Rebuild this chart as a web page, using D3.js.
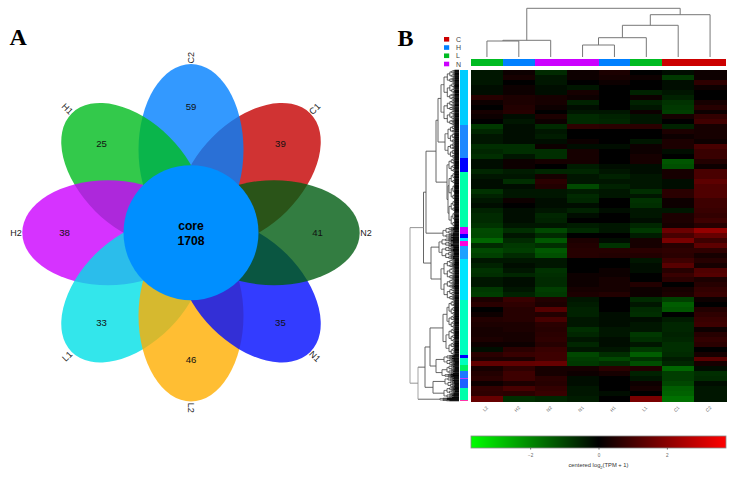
<!DOCTYPE html>
<html><head><meta charset="utf-8">
<script src="https://cdn.jsdelivr.net/npm/d3@7"></script>
<style>html,body{margin:0;padding:0;background:#fff}svg{display:block}text{font-family:"Liberation Sans",Arial,sans-serif}</style>
</head><body><svg id="c" width="729" height="479"></svg>
<script>
// ---- Panel A: flower Venn
const vennNames  = ["C1","C2","H1","H2","L1","L2","N1","N2"];
const vennValues = [39,59,25,38,33,46,35,41];
const vennAngles = [45,0,-45,-90,-135,180,135,90];
const vennColors = ["#c40000","#0080ff","#00bb1e","#cc00ff","#00e0e6","#ffae00","#000bff","#005c11"];
const coreName = "core", coreValue = 1708;

// ---- Panel B: heat map, one array per row, columns in sampleOrder
const sampleOrder = ["L2","H2","N2","N1","H1","L1","C1","C2"];
const sampleGroup = ["L","H","N","N","H","L","C","C"];
const groupNames  = ["C","H","L","N"];
const groupColors = ["#cc0000","#0080ff","#00bb22","#cc00ff"];
const heatRows = [
[-0.4,0.3,-0.9,0.3,0.6,0.1,-0.2,0.3],[-0.5,0.5,-0.5,0.2,0.5,0.2,-1.2,0.2],[-0.5,0.1,-0.5,0,0.2,0,-0.3,1.0],[-0.2,0.2,-0.3,-0.4,0.1,-0.1,-0.3,0.3],
[-0.2,0.2,-0.3,0.4,0.1,-0.7,-0.5,0.1],[0.8,0.6,0.5,0.3,0.1,0.3,-0.7,0],[0.3,0.6,0.5,-0.7,0,-0.7,-1.1,0.5],[0.1,0.7,0.2,-0.2,-0.1,-0.4,-1.2,0.8],
[0.5,0.8,0.1,-0.4,-0.4,0.3,-1.3,0.3],[0.3,-0.2,0.6,-0.9,-0.7,-0.5,0.4,1.1],[0.1,-0.5,0.2,-0.9,-0.8,-0.5,0,1.4],[-1.2,-0.3,-0.9,1.0,0.9,0.9,-0.7,0.5],
[-0.8,-0.3,-0.4,0.1,0.1,0,0.6,0.5],[-0.4,-0.2,-0.6,0.1,0.1,0.1,0.3,0.5],[-0.5,-0.2,-0.2,0.2,0.1,-0.4,0.6,0.2],[-1.0,-1.0,0.2,-0.2,-0.3,0.2,0.6,1.5],
[-0.8,-1.0,-1.0,0.5,-0.1,0.3,-0.3,1.2],[-1,-0.5,-1,0.4,-0.1,0.4,-0.1,1.2],[-0.2,0.2,0.5,0.5,0,0.4,-1.8,0.7],[-0.3,0.3,0.1,-0.6,-0.2,-0.2,-1.7,0.3],
[-0.8,-0.6,-0.8,-0.8,-0.5,-0.2,0.4,1.6],[-0.5,-0.5,0.4,-0.5,-0.7,-0.4,0.4,1.6],[-0.3,-1,0.9,-0.4,-0.4,-0.5,-0.2,2],[-0.2,-0.2,0.7,-1.6,-0.7,-0.4,-0.3,1.7],
[-1.1,-0.4,-0.4,-0.6,-0.5,-1,0.9,1.7],[-0.7,-0.4,-0.4,-0.9,-0.5,-0.4,0.9,1.7],[-0.4,0.2,-0.2,-0.8,-0.1,-1.1,0.2,1.3],[-0.3,0.1,-0.2,-0.3,0,-1.0,0.2,1.3],
[-0.7,-0.3,-0.5,-0.7,-0.2,-0.4,-0.4,1.2],[-0.9,-0.3,-0.8,-0.2,0.1,-0.4,0.6,1.1],[-0.9,-0.3,-0.7,-0.1,0.1,-0.2,0.6,1.3],[-1.1,-0.5,-0.5,-0.6,-0.4,-0.8,0.5,0.8],
[-1.6,-1,-1.6,-0.9,-0.5,-1.2,2.3,3.2],[-1.5,-0.4,-0.9,0,-0.1,-0.6,1.5,2.2],[-2.2,-0.9,-1.9,0.6,-0.2,0.5,2.6,1.3],[-0.9,-1.2,-1.0,0.7,-1.1,0.5,0.8,2],
[-1.6,-1.3,-1.9,0.8,0.8,0.9,1.0,1.0],[-1.4,-0.9,-1.7,0.8,0.7,0.7,0.9,0.5],[-0.4,-0.4,-0.5,0.1,-0.1,-0.5,1.3,0.8],[-0.7,-0.3,-0.5,0,0.1,-0.3,1.9,0.4],
[-1.1,-0.4,-1.1,0.1,0.2,-0.3,0.8,1.7],[-1.0,-0.8,-1.0,0.2,0.2,0,1.2,1.8],[-0.5,-0.3,-0.9,0.3,0.4,0.1,0.9,0.6],[-0.4,-0.3,-0.9,0.3,0.4,0.7,0.1,0.8],
[-1.2,-0.5,-1.3,0.5,0.5,0.3,0.5,1.1],[-1.3,-0.7,-1.2,0.6,0.7,0.3,0.6,1.2],[0.6,1.2,0.7,-0.5,0,-0.9,-1.4,0.2],[0.9,1,0.6,-0.6,-0.1,-0.4,-2,0.1],
[0.1,0.8,1.8,-0.7,-0.1,-0.9,-1.8,0.7],[0.2,0.8,0.7,-0.7,-0.3,-1,0.1,1],[0.7,0.8,1.5,-0.4,-0.3,-0.3,-0.6,1.2],[0.6,0.6,0.9,-0.5,-0.3,-0.4,-0.8,1.3],
[0.5,0.6,0.8,-1,-0.4,-0.4,-0.8,0.3],[0.5,0.4,0.9,-0.8,-0.4,-1.2,-0.7,0.8],[0.6,0.4,1,-0.5,-0.2,-1,-0.8,1.1],[0.2,0.2,0.8,-0.8,-0.2,-0.5,-1,0.9],
[-0.3,0.9,1.2,-0.4,-0.5,-1.2,-1,0.1],[0.9,1.2,1.3,-1.5,-1,-2,-0.9,0.5],[0.6,0.6,1.3,-1.3,-1.5,-1.1,-0.6,1.9],[2.1,2.1,2.2,-1.2,-1.0,-1.7,-0.8,0.4],
[0.5,1,0.4,0.5,0.9,0.7,-2.2,-0.2],[0.7,1.3,0.5,0.2,0.4,-0.7,-1.3,-1.0],[0.9,1.3,0.9,-0.2,0.1,-0.5,-1.3,-0.9],[0.3,0.6,0.8,-0.3,-0.1,0.3,-1.5,-0.2],
[1.1,1.5,1.1,-0.4,-0.1,0.4,-2,-0.5],[1,0.9,1.2,-0.4,-0.2,-0.1,-2.1,-0.4],[2.2,-1,-0.8,-0.6,-0.1,2.6,-2.4,-0.5]
];
const cellGain = 0.68;
// row annotation runs: [row span in px, colour]
const rowGroupSpans = [55,33,14,55,7,4,3,5,13,41,55,3,7,6,7,1,9,12,1];
const rowGroupColors = ["#00ccff","#1e88ff","#0000ff","#00ffaa","#cc00ff","#0000ff","#00e5ff","#ff00dc","#1ea0ff","#00e5ff","#00ffbe","#0000ff","#00ffbe","#00f064","#1e78ff","#cc33ff","#1e60ff","#00ffaa","#ff33aa"];
// column dendrogram: [merge height, left, right], leaves are column indexes
const colTree = [8.3,[40.3,[41,0,1],2],[14.7,[25.3,[37.7,[45,3,4],5],6],7]];
// row dendrogram: [merge position, children...], plain numbers are leaf bundles (rows in px)
const rowTree = [410,
 [423.5,
  [426,
   [436,[438,[441,30,25],[445,18,15]],[447,14,[448,28,27]]],
   [443,7,4]],
  [431,[439,8,13],[441,20,21]]],
 [418,
  [425,
   [430,[443,[447,15,13],[446,14,13]],[436,[444,4,6],[442,[447,5,4],3]]],
   [433,[445,4,6],[444,7,4]]],
  [440,1,2]]];
const scaleTicks = [-2,0,2];

// ---- drawing
const svg = d3.select("#c");
const cx=191, cy=232.7, petalDist=83, petalA=85.7, petalB=52.5, coreR=67.5;
const defs = svg.append("defs");
const blur=defs.append("filter").attr("id","soft").attr("x",0).attr("y",0).attr("width",1).attr("height",1);
blur.append("feGaussianBlur").attr("stdDeviation","0.5 0.6");

svg.append("text").attr("x",9.5).attr("y",45).text("A").style("font-family","'Liberation Serif',serif").style("font-weight","bold").style("font-size","24px");
svg.append("text").attr("x",397.5).attr("y",45.5).text("B").style("font-family","'Liberation Serif',serif").style("font-weight","bold").style("font-size","24px");

const venn = svg.append("g");
const rad = d3.scaleLinear().domain([0,360]).range([0,2*Math.PI]);
venn.selectAll("ellipse.p").data(vennNames).join("ellipse").attr("class","p")
  .attr("cx",cx).attr("cy",cy-petalDist).attr("rx",petalB).attr("ry",petalA)
  .attr("fill",(d,i)=>vennColors[i]).attr("fill-opacity",0.8)
  .attr("transform",(d,i)=>`rotate(${vennAngles[i]} ${cx} ${cy})`);
venn.append("circle").attr("cx",cx).attr("cy",cy).attr("r",coreR).attr("fill","#008fff");
const numR=126.5;
venn.selectAll("text.v").data(vennValues).join("text").attr("class","v")
  .attr("x",(d,i)=>cx+numR*Math.sin(rad(vennAngles[i])))
  .attr("y",(d,i)=>cy-numR*Math.cos(rad(vennAngles[i]))+3.4)
  .attr("text-anchor","middle").style("font-size","9.6px").attr("fill","#111").text(d=>d);
venn.selectAll("text.n").data(vennNames).join("text").attr("class","n")
  .attr("text-anchor","middle").attr("dominant-baseline","central").style("font-size","9px").attr("fill","#222")
  .attr("transform",(d,i)=>{
    const a=vennAngles[i], r=175;
    const x=cx+r*Math.sin(rad(a)), y=cy-r*Math.cos(rad(a));
    const t=a===0?-90:a===180?90:(a===90||a===-90)?0:(a===45||a===-135)?-45:45;
    return `translate(${x},${y}) rotate(${t})`;
  }).text(d=>d);
venn.append("text").attr("x",cx).attr("y",230).attr("text-anchor","middle").style("font-size","12.2px").style("font-weight","bold").text(coreName);
venn.append("text").attr("x",cx).attr("y",245.2).attr("text-anchor","middle").style("font-size","12.2px").style("font-weight","bold").text(coreValue);

// heat map
const hx0=471,hx1=726,hy0=70,hy1=401;
const xBand=d3.scaleBand().domain(d3.range(sampleOrder.length)).range([hx0,hx1]);
const yBand=d3.scaleBand().domain(d3.range(heatRows.length)).range([hy0,hy1]);
const colorMax=3.73;
const heat=d3.scaleLinear().domain([-colorMax,0,colorMax]).range(["#00ff00","#000000","#ff0000"]);
const hm=svg.append("g").attr("filter","url(#soft)");
hm.append("rect").attr("x",hx0).attr("y",hy0).attr("width",hx1-hx0).attr("height",hy1-hy0).attr("fill","#000");
heatRows.forEach((row,r)=>{
  hm.selectAll(null).data(row).join("rect").attr("shape-rendering","crispEdges")
    .attr("x",(d,i)=>xBand(i)).attr("y",yBand(r)).attr("width",xBand.bandwidth()+0.5).attr("height",yBand.bandwidth()+0.5)
    .attr("fill",d=>heat(d*cellGain));
});
// column colour bar
svg.append("g").selectAll("rect").data(sampleGroup).join("rect").attr("shape-rendering","crispEdges")
  .attr("x",(d,i)=>xBand(i)).attr("y",59).attr("width",xBand.bandwidth()+0.2).attr("height",7)
  .attr("fill",d=>groupColors[groupNames.indexOf(d)]);
// column labels
svg.append("g").selectAll("text").data(sampleOrder).join("text")
  .attr("transform",(d,i)=>`translate(${xBand(i)+xBand.bandwidth()/2-1.5},409) rotate(-45)`)
  .attr("text-anchor","middle").attr("dominant-baseline","central").style("font-size","4.6px").attr("fill","#555").text(d=>d);
// legend
const lg=svg.append("g");
const lgY=d3.scalePoint().domain(groupNames).range([39.3,64]);
lg.selectAll("rect").data(groupNames).join("rect").attr("x",444).attr("y",d=>lgY(d)-2.3).attr("width",5.2).attr("height",4.6).attr("fill",(d,i)=>groupColors[i]);
lg.selectAll("text").data(groupNames).join("text").attr("x",456).attr("y",d=>lgY(d)+2.6).style("font-size","7px").attr("fill","#444").text(d=>d);

// row annotation
let acc=hy0;
svg.append("g").selectAll("rect").data(rowGroupSpans).join("rect").attr("shape-rendering","crispEdges")
  .attr("x",460.3).attr("width",7.4).attr("y",d=>{const y=acc;acc+=d;return y;}).attr("height",d=>d+0.2)
  .attr("fill",(d,i)=>rowGroupColors[i]);

// column dendrogram
const colCenter=i=>xBand(i)+xBand.bandwidth()/2;
const cd=svg.append("g").attr("fill","none").attr("stroke","#777").attr("stroke-width",1);
function drawCol(n){
  if(typeof n==="number") return {x:colCenter(n),y:57};
  const a=drawCol(n[1]),b=drawCol(n[2]),h=n[0];
  cd.append("path").attr("d",d3.line()([[a.x,a.y],[a.x,h],[b.x,h],[b.x,b.y]]));
  return {x:(a.x+b.x)/2,y:h};
}
drawCol(colTree);

// row dendrogram
const rd=svg.append("g").attr("fill","none");
const tipX=459;
let cursor=hy0;
function bundle(y0,y1,x,depth){
  const span=y1-y0;
  if(span<=0.9){
    rd.append("path").attr("d",d3.line()([[x,(y0+y1)/2],[tipX,(y0+y1)/2]])).attr("stroke","#000").attr("stroke-width",1);
    return (y0+y1)/2;
  }
  const ratio=depth%3===0?0.42:(depth%3===1?0.62:0.5);
  const ym=y0+span*ratio;
  const nx=Math.min(454.5,x+Math.max(0.7,(tipX-x)*0.22));
  const a=bundle(y0,ym,nx,depth+1), b=bundle(ym,y1,nx,depth+1);
  rd.append("path").attr("d",d3.line()([[nx,a],[x,a],[x,b],[nx,b]])).attr("stroke","#222").attr("stroke-width",0.7);
  return (a+b)/2;
}
function drawRow(n,parentX){
  let y;
  if(typeof n==="number"){
    const y0=cursor; cursor+=n;
    y=bundle(y0,cursor,Math.min(449,parentX+3),0);
    rd.append("path").attr("d",d3.line()([[parentX,y],[Math.min(449,parentX+3),y]])).attr("stroke","#444").attr("stroke-width",0.7);
    return y;
  }
  const x=n[0];
  const ys=n.slice(1).map(c=>drawRow(c,x));
  y=d3.mean(ys);
  rd.append("path").attr("d",d3.line()([[x,ys[0]],[x,ys[ys.length-1]]])).attr("stroke",x<420?"#999":"#555").attr("stroke-width",0.9);
  if(parentX!==null) rd.append("path").attr("d",d3.line()([[parentX,y],[x,y]])).attr("stroke",x<425?"#888":"#555").attr("stroke-width",0.9);
  return y;
}
drawRow(rowTree,null);

// colour scale
const grad=defs.append("linearGradient").attr("id","cb");
[[0,"#00ff00"],[0.5,"#000000"],[1,"#ff0000"]].forEach(s=>grad.append("stop").attr("offset",s[0]).attr("stop-color",s[1]));
const cbx=d3.scaleLinear().domain([-colorMax,colorMax]).range([hx0,hx1]);
svg.append("rect").attr("x",hx0).attr("y",436).attr("width",hx1-hx0).attr("height",12).attr("fill","url(#cb)").attr("stroke","#888").attr("stroke-width",0.8);
const ax=svg.append("g").attr("transform","translate(0,448)").call(d3.axisBottom(cbx).tickValues(scaleTicks).tickSize(1.5).tickSizeOuter(0).tickFormat(d=>d<0?"\u2212"+(-d):d));
ax.select(".domain").remove();
ax.selectAll("line").attr("stroke","#666");
ax.selectAll("text").style("font-size","4.6px").attr("fill","#666").attr("dy","0.9em");
const ttl=svg.append("text").attr("x",598.5).attr("y",467).attr("text-anchor","middle").style("font-size","5.8px").attr("fill","#333");
ttl.append("tspan").text("centered log");
ttl.append("tspan").attr("dy",1.5).style("font-size","4px").text("2");
ttl.append("tspan").attr("dy",-1.5).text("(TPM + 1)");
</script></body></html>
